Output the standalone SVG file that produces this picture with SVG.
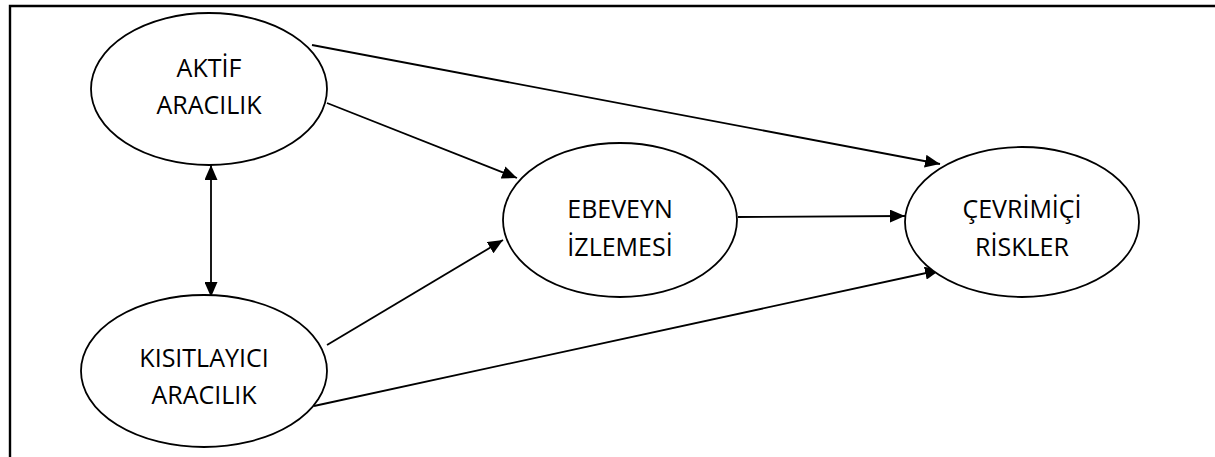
<svg xmlns="http://www.w3.org/2000/svg" width="1215" height="457" viewBox="0 0 1215 457">
  <style>
    .node ellipse { fill: #ffffff; stroke: #000000; stroke-width: 1.8; }
    .node text { font-family: "Open Sans", "Liberation Sans", Arial, sans-serif; font-size: 25px; fill: #000000; text-anchor: middle; }
    .conn line { stroke: #000000; stroke-width: 1.8; fill: none; marker-end: url(#arrow); }
    .frame { stroke: #000000; stroke-width: 2.4; fill: none; }
  </style>
  <defs>
    <marker id="arrow" markerUnits="userSpaceOnUse" markerWidth="15" markerHeight="13" refX="15" refY="6.5" orient="auto-start-reverse" viewBox="0 0 15 13">
      <path d="M0,0 L15,6.5 L0,13 Z" fill="#000000"/>
    </marker>
  </defs>
  <rect x="0" y="0" width="1215" height="457" fill="#ffffff"/>
  <path class="frame" d="M10,460 L10,6 L1220,6"/>

  <g id="connectors" class="conn">
    <line x1="211" y1="297" x2="211" y2="165" style="marker-start:url(#arrow)"/>
    <line x1="312" y1="45" x2="940" y2="164"/>
    <line x1="327" y1="103" x2="517" y2="178"/>
    <line x1="327" y1="345" x2="503" y2="240"/>
    <line x1="738" y1="217" x2="905" y2="216"/>
    <line x1="314" y1="406" x2="940" y2="270"/>
  </g>

  <g id="node-aktif" class="node">
    <ellipse cx="209" cy="89" rx="118" ry="76"/>
    <text x="209" y="77">AKTİF</text>
    <text x="209" y="114">ARACILIK</text>
  </g>
  <g id="node-kisitlayici" class="node">
    <ellipse cx="204" cy="371" rx="123" ry="76"/>
    <text x="204" y="367">KISITLAYICI</text>
    <text x="204" y="404">ARACILIK</text>
  </g>
  <g id="node-ebeveyn" class="node">
    <ellipse cx="620" cy="220" rx="117" ry="77"/>
    <text x="620" y="218">EBEVEYN</text>
    <text x="620" y="256">İZLEMESİ</text>
  </g>
  <g id="node-cevrimici" class="node">
    <ellipse cx="1022" cy="222" rx="117" ry="75"/>
    <text x="1022" y="218">ÇEVRİMİÇİ</text>
    <text x="1022" y="256">RİSKLER</text>
  </g>
</svg>
